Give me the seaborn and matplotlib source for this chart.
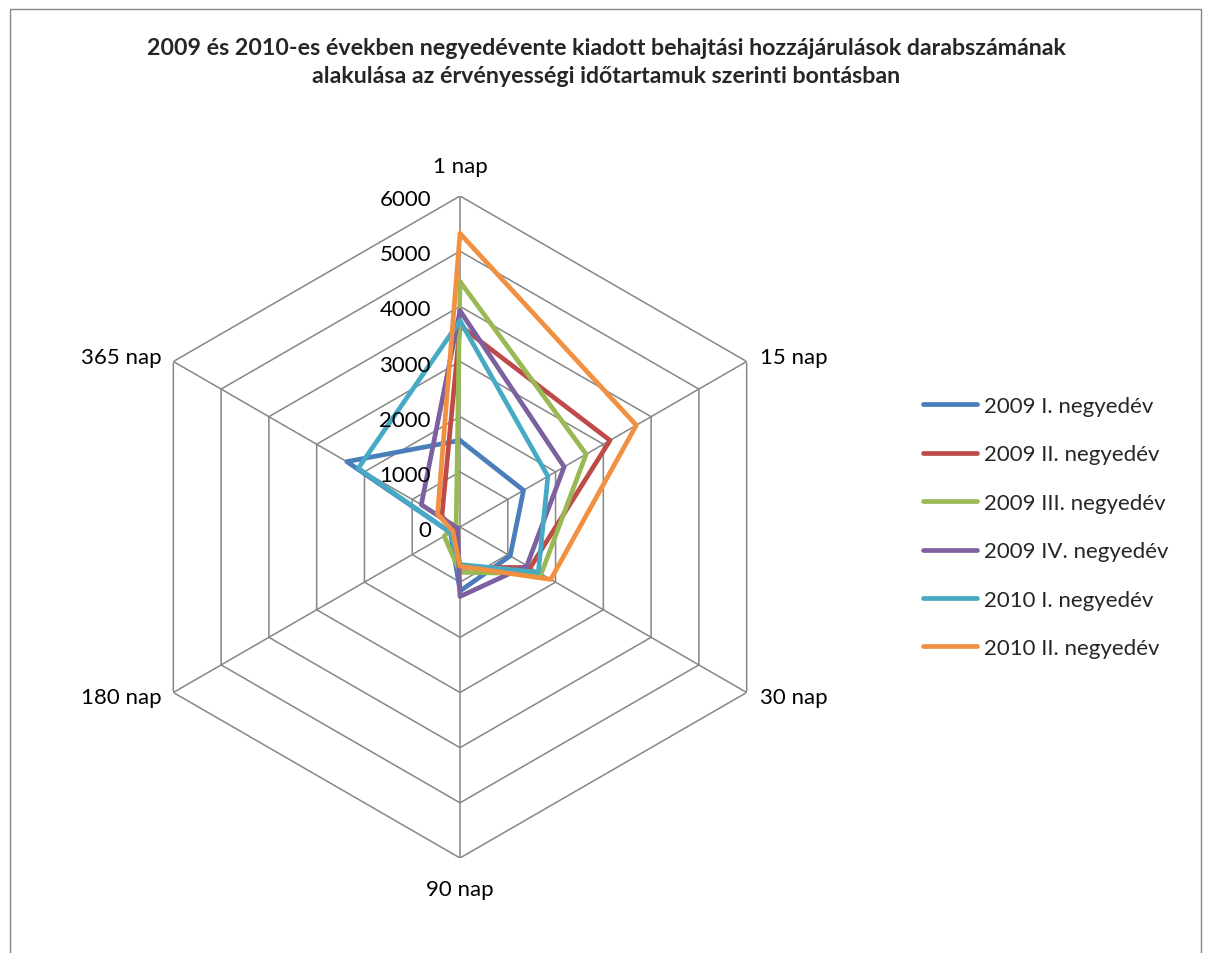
import numpy as np
import pandas as pd
import matplotlib
matplotlib.use("Agg")
import matplotlib.pyplot as plt
from matplotlib.patches import Rectangle
import seaborn as sns

# ---------------- data ----------------
categories = ["1 nap", "15 nap", "30 nap", "90 nap", "180 nap", "365 nap"]
series_names = ["2009 I. negyedév", "2009 II. negyedév", "2009 III. negyedév",
                "2009 IV. negyedév", "2010 I. negyedév", "2010 II. negyedév"]
q2009_1 = [1570, 1330, 1050, 1160, 200, 2370]
q2009_2 = [3650, 3140, 1470, 730, 100, 380]
q2009_3 = [4450, 2640, 1700, 820, 330, 80]
q2009_4 = [3920, 2180, 1400, 1260, 50, 810]
q2010_1 = [3740, 1840, 1640, 680, 200, 2130]
q2010_2 = [5320, 3690, 1900, 710, 150, 470]
radial_ticks = [0, 1000, 2000, 3000, 4000, 5000, 6000]
title_text = ("2009 és 2010-es években negyedévente kiadott behajtási hozzájárulások darabszámának\n"
              "alakulása az érvényességi időtartamuk szerinti bontásban")

colors = ["#4A7EBB", "#BE4B48", "#98B954", "#7D60A0", "#46AAC5", "#F09040"]
grid_color = "#868686"

# ---------------- style ----------------
sns.set_theme(style="white")
plt.rcParams["font.family"] = ["Lato", "DejaVu Sans"]
FS = 16

W, H = 1211, 954
fig = plt.figure(figsize=(W / 100, H / 100), dpi=100)

# outer chart frame
fig.add_artist(Rectangle((9.5 / W, -0.05), (1201.5 - 9.5) / W, 1.05 - 9.5 / H,
                         transform=fig.transFigure, fill=False,
                         edgecolor=grid_color, lw=1.0))

cx, cy, R = 460, 528, 331
ax = fig.add_axes([(cx - R) / W, (H - cy - R) / H, 2 * R / W, 2 * R / H],
                  projection="polar")
ax.set_theta_offset(np.pi / 2)
ax.set_theta_direction(-1)
ax.set_ylim(0, 6000)
ax.grid(False)
ax.spines["polar"].set_visible(False)
ax.set_xticks([])
ax.set_yticks([])
ax.patch.set_alpha(0)

n = len(categories)
angles = np.linspace(0, 2 * np.pi, n, endpoint=False)
ang_closed = np.append(angles, 2 * np.pi)

# hexagonal grid
for lvl in radial_ticks[1:]:
    ax.plot(ang_closed, [lvl] * (n + 1), color=grid_color, lw=1.1, zorder=1)
for a in angles:
    ax.plot([a, a], [0, radial_ticks[-1]], color=grid_color, lw=1.1, zorder=1)

# data in long form
all_vals = [q2009_1, q2009_2, q2009_3, q2009_4, q2010_1, q2010_2]
rows = []
for name, vals in zip(series_names, all_vals):
    for a, v in zip(ang_closed, list(vals) + [vals[0]]):
        rows.append({"theta": a, "value": v, "series": name})
df = pd.DataFrame(rows)

sns.lineplot(data=df, x="theta", y="value", hue="series", hue_order=series_names,
             palette=colors, sort=False, estimator=None, lw=3.4, ax=ax,
             solid_joinstyle="round", solid_capstyle="round", zorder=3)
handles, labels = ax.get_legend_handles_labels()
if ax.get_legend() is not None:
    ax.get_legend().remove()
ax.set_xlabel("")
ax.set_ylabel("")
ax.set_xticks([])
ax.set_yticks([])
ax.set_ylim(0, 6000)

# radial tick labels
for lvl in radial_ticks:
    ax.annotate(str(lvl), xy=(0, lvl), xytext=(-29 * 0.72, -3 * 0.72),
                textcoords="offset points", ha="right", va="center",
                fontsize=FS, color="black")

# category labels
offs = [(0, 30, "center"), (13, 5, "left"), (13, -5, "left"),
        (0, -31, "center"), (-12, -5, "right"), (-12, 5, "right")]
for a, lab, (dx, dy, ha) in zip(angles, categories, offs):
    ax.annotate(lab, xy=(a, 6000), xytext=(dx * 0.72, dy * 0.72),
                textcoords="offset points", ha=ha, va="center",
                fontsize=FS, color="black")

# legend
for h in handles:
    h.set_linewidth(3.4)
    h.set_solid_capstyle("round")
fig.legend(handles, labels, loc="upper left",
           bbox_to_anchor=(923 / W, 1 - 397 / H), frameon=False,
           fontsize=FS, handlelength=2.45, handletextpad=0.3,
           labelspacing=1.28, borderpad=0, borderaxespad=0)

# title
fig.text(606 / W, 1 - 62.5 / H, title_text, ha="center", va="center",
         fontsize=16.7, fontweight="bold", family=["Lato", "DejaVu Sans"],
         linespacing=1.38)

fig.savefig("out.png", dpi=100)
